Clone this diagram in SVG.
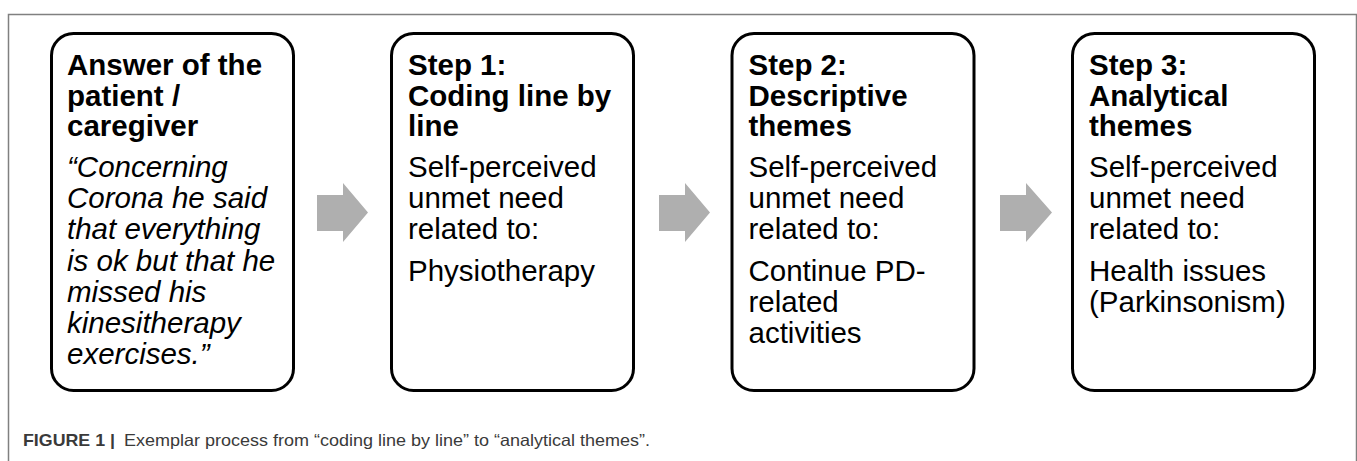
<svg xmlns="http://www.w3.org/2000/svg" width="1357" height="461" viewBox="0 0 1357 461">
<style>
.frame{fill:none;stroke:#808080;stroke-width:1.5}
.box{fill:#fff;stroke:#000;stroke-width:3}
.arrow{fill:#afafaf}
text{font-family:"Liberation Sans",Arial,sans-serif;font-size:29.5px;fill:#000}
.b{font-weight:bold}
.i{font-style:italic}
.cap{font-size:16.5px;fill:#3a3a3a}
</style>
<rect width="1357" height="461" fill="#fff"/>
<path class="frame" d="M8.5,461 V14.5 H1356.5 V461"/>
<g id="connectors">
<polygon class="arrow" points="317,195 343,195 343,183 368,212.5 343,242 343,231 317,231"/>
<polygon class="arrow" points="659,195 685,195 685,183 710,212.5 685,242 685,231 659,231"/>
<polygon class="arrow" points="1000,195 1026,195 1026,183 1052,212.5 1026,242 1026,231 1000,231"/>
</g>
<g id="node1">
<rect class="box" x="51.5" y="33.5" width="242" height="357" rx="22"/>
<text class="b" x="67"><tspan x="67" y="75">Answer of the</tspan><tspan x="67" y="105.5">patient /</tspan><tspan x="67" y="136">caregiver</tspan></text>
<text class="i"><tspan x="67" y="177">“Concerning</tspan><tspan x="67" y="208.2">Corona he said</tspan><tspan x="67" y="239.4">that everything</tspan><tspan x="67" y="270.6">is ok but that he</tspan><tspan x="67" y="301.8">missed his</tspan><tspan x="67" y="333">kinesitherapy</tspan><tspan x="67" y="364.2">exercises.”</tspan></text>
</g>
<g id="node2">
<rect class="box" x="391.5" y="33.5" width="242" height="357" rx="22"/>
<text class="b"><tspan x="408" y="75">Step 1:</tspan><tspan x="408" y="105.5">Coding line by</tspan><tspan x="408" y="136">line</tspan></text>
<text><tspan x="408" y="177">Self-perceived</tspan><tspan x="408" y="208">unmet need</tspan><tspan x="408" y="239">related to:</tspan><tspan x="408" y="281">Physiotherapy</tspan></text>
</g>
<g id="node3">
<rect class="box" x="732" y="33.5" width="242" height="357" rx="22"/>
<text class="b"><tspan x="748.5" y="75">Step 2:</tspan><tspan x="748.5" y="105.5">Descriptive</tspan><tspan x="748.5" y="136">themes</tspan></text>
<text><tspan x="748.5" y="177">Self-perceived</tspan><tspan x="748.5" y="208">unmet need</tspan><tspan x="748.5" y="239">related to:</tspan><tspan x="748.5" y="281">Continue PD-</tspan><tspan x="748.5" y="312">related</tspan><tspan x="748.5" y="343">activities</tspan></text>
</g>
<g id="node4">
<rect class="box" x="1072.5" y="33.5" width="242" height="357" rx="22"/>
<text class="b"><tspan x="1089" y="75">Step 3:</tspan><tspan x="1089" y="105.5">Analytical</tspan><tspan x="1089" y="136">themes</tspan></text>
<text><tspan x="1089" y="177">Self-perceived</tspan><tspan x="1089" y="208">unmet need</tspan><tspan x="1089" y="239">related to:</tspan><tspan x="1089" y="281">Health issues</tspan><tspan x="1089" y="312">(Parkinsonism)</tspan></text>
</g>
<g id="caption">
<text class="cap b" x="23" y="446" textLength="92" lengthAdjust="spacingAndGlyphs">FIGURE 1 |</text>
<text class="cap" x="124" y="446" textLength="526" lengthAdjust="spacingAndGlyphs">Exemplar process from “coding line by line” to “analytical themes”.</text>
</g>
</svg>
